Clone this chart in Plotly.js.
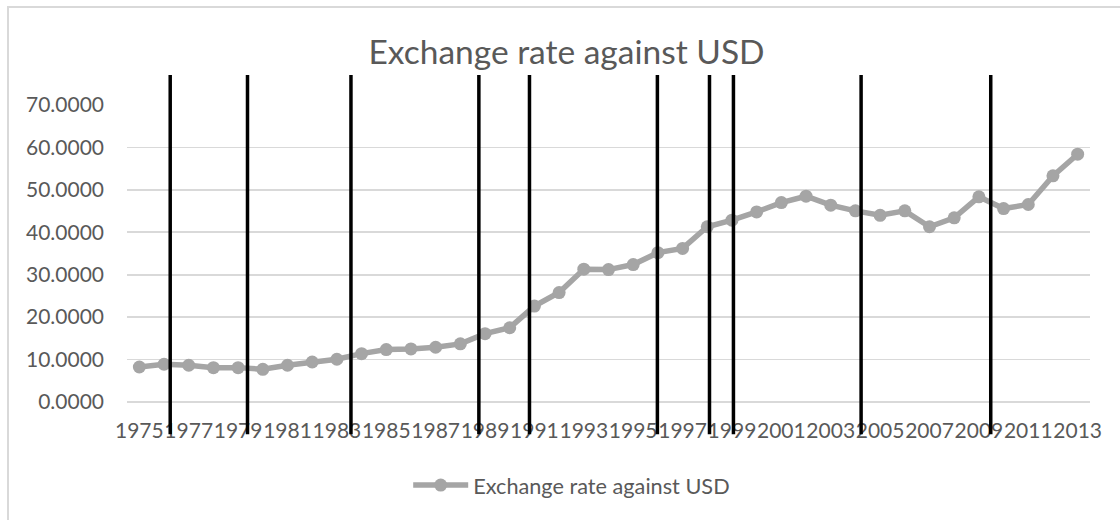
<!DOCTYPE html>
<html>
<head>
<meta charset="utf-8">
<script src="https://cdn.plot.ly/plotly-3.0.1.min.js"></script>
<style>
  html, body { margin: 0; padding: 0; background: #ffffff; overflow: hidden; }
  #wrap { position: relative; width: 1120px; height: 520px; }
  #chart { position: absolute; left: 0; top: 0; width: 1120px; height: 520px; }
  #frame { position: absolute; left: 7px; top: 6px; width: 1200px; height: 600px;
           border-left: 2px solid #d9d9d9; border-top: 2px solid #d9d9d9; pointer-events: none; }
</style>
</head>
<body>
<div id="wrap">
  <div id="chart"></div>
  <div id="frame"></div>
</div>
<script>
// ---- data ----
const years = [1975,1976,1977,1978,1979,1980,1981,1982,1983,1984,1985,1986,1987,1988,1989,1990,
               1991,1992,1993,1994,1995,1996,1997,1998,1999,2000,2001,2002,2003,2004,2005,2006,
               2007,2008,2009,2010,2011,2012,2013];
const rates = [8.25,8.9,8.66,8.1,8.1,7.7,8.66,9.43,10.07,11.4,12.35,12.5,12.9,13.7,16.1,17.5,
               22.6,25.8,31.3,31.2,32.4,35.2,36.2,41.3,42.85,44.8,47.0,48.5,46.4,45.05,44.0,45.05,
               41.3,43.4,48.35,45.6,46.55,53.3,58.4];
const tickYears = [1975,1977,1979,1981,1983,1985,1987,1989,1991,1993,1995,1997,1999,2001,2003,
                   2005,2007,2009,2011,2013];
const tickLabels = ["1975","1977","1979","1981","1983","1985","1987","1989","1991","1993","1995",
                    "1997","1999","2001","2003","2005","2007","2009","2011","2013"];
const markerLineYears = [1976.25,1979.38,1983.57,1988.75,1990.80,1995.98,1998.09,1999.06,2004.23,2009.48];
const seriesName = "Exchange rate against USD";
const chartTitle = "Exchange rate against USD";

// ---- chart ----
const FONT = "Lato, 'Open Sans', sans-serif";
const TXT = "#595959";

const trace = {
  x: years, y: rates, type: "scatter", mode: "lines+markers", name: seriesName,
  line: { color: "#a5a5a5", width: 5.5 },
  marker: { color: "#a5a5a5", size: 13, line: { width: 0 } },
  cliponaxis: false
};

const shapes = markerLineYears.map(v => ({
  type: "line", xref: "x", yref: "paper",
  x0: v, x1: v, y0: -0.109, y1: 1.101,
  line: { color: "#000000", width: 3.5 }
}));

const layout = {
  width: 1120, height: 520,
  margin: { l: 127, r: 30, t: 105, b: 118 },
  paper_bgcolor: "#ffffff", plot_bgcolor: "#ffffff",
  font: { family: FONT, color: TXT, size: 21 },
  showlegend: true,
  title: {
    text: chartTitle,
    font: { family: FONT, size: 33.5, color: TXT },
    xref: "container", yref: "container",
    x: 0.5058, xanchor: "center", y: 0.9, yanchor: "middle"
  },
  xaxis: {
    type: "linear", range: [1974.5, 2013.5],
    tickmode: "array", tickvals: tickYears, ticktext: tickLabels,
    tickangle: 0, ticks: "", showgrid: false, zeroline: false,
    showline: false, ticklabelstandoff: 14,
    tickfont: { family: FONT, size: 21, color: TXT }
  },
  yaxis: {
    range: [0, 70], dtick: 10, tick0: 0, tickformat: ".4f",
    showgrid: true, gridcolor: "#d9d9d9", gridwidth: 1.7,
    zeroline: true, zerolinecolor: "#d9d9d9", zerolinewidth: 1.7,
    showline: false, ticks: "", ticklabelstandoff: 22,
    tickfont: { family: FONT, size: 21, color: TXT }
  },
  legend: {
    orientation: "h", x: 0.292, xanchor: "left", y: -0.281, yanchor: "middle",
    font: { family: FONT, size: 21.7, color: TXT },
    itemwidth: 55, bgcolor: "rgba(0,0,0,0)"
  },
  shapes: shapes
};

Plotly.newPlot("chart", [trace], layout, { staticPlot: true, displayModeBar: false });
</script>
</body>
</html>
